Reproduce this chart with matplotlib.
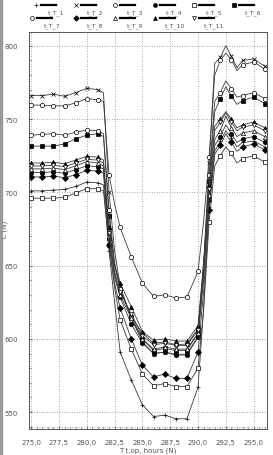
# Temperature curves t_T_1 .. t_T_11 against operating time
import numpy as np
import matplotlib.pyplot as plt
from matplotlib.ticker import MultipleLocator, FuncFormatter
from matplotlib.patches import Rectangle

hours = [275, 276, 277, 278, 279, 280, 281, 281.5, 282, 282.5, 283, 284, 285, 286,
         287, 288, 289, 290, 290.5, 291, 291.5, 292, 292.5, 293, 293.5, 294, 295, 296]

labels = ["t_T_1", "t_T_2", "t_T_3", "t_T_4", "t_T_5", "t_T_6",
          "t_T_7", "t_T_8", "t_T_9", "t_T_10", "t_T_11"]
markers = ["+", "x", "o", "o", "s", "s", "o", "D", "^", "^", "v"]
filled = [True, True, False, True, False, True, False, True, False, True, False]

t1 = [701, 701, 701.5, 702, 704, 707, 706.5, 705, 660, 625, 591, 572, 555, 547,
      548, 545.5, 545.5, 567, 620, 690, 728, 735, 742, 737, 731, 734, 735, 731]
t2 = [766, 766, 767, 765.5, 768, 771, 770, 768, 700, 660, 636, 614, 598, 590,
      591, 589.5, 589.5, 602, 650, 720, 788, 792, 800, 793, 785, 790, 791, 786]
t3 = [759.5, 759.5, 759, 759, 761, 764, 763, 762, 712, 692, 676, 656, 638, 629,
      630, 628, 628.5, 646, 680, 724, 780, 790, 795, 790.5, 783, 787, 789, 784]
t4 = [713.5, 713.5, 714, 713, 715.5, 718, 717.5, 716, 668, 642, 628.5, 610, 597, 590,
      591, 589, 589, 601, 640, 695, 732, 738, 746, 740, 734, 736.5, 738, 734]
t5 = [696, 696, 696, 696.5, 699.5, 702.5, 702.5, 701, 664, 635, 613, 593, 576, 568,
      569.5, 567.5, 567.5, 580, 620, 680, 718, 725, 731, 726.5, 720, 723, 725, 720.5]
t6 = [731.5, 731.5, 731.5, 733, 736.5, 739, 740, 738, 684, 650, 634, 615, 600, 592,
      593.5, 592, 592, 604, 646, 708, 755, 764, 772, 765.5, 760, 762.5, 765, 760.5]
t7 = [739, 739.5, 740, 739, 741, 742.5, 742, 740, 688, 652, 634, 615, 604, 597,
      598, 596, 596.5, 607, 650, 712, 762, 768, 776, 770.5, 765, 766, 768, 764]
t8 = [710.5, 710.5, 711, 710, 712, 715, 714.5, 713, 664, 638, 621, 600, 582, 574,
      576, 573, 573, 591, 632, 688, 726, 732, 740, 734, 728, 731, 733, 729]
t9 = [716, 716, 716.5, 715.5, 718, 721, 720, 718, 670, 644, 630, 614, 600, 593,
      594.5, 593, 593, 604, 644, 698, 736, 742, 752, 744, 738, 740.5, 742, 738]
t10 = [720, 720, 720.5, 719.5, 722, 724.5, 724, 722, 676, 650, 638, 622, 605, 599,
       600, 598.5, 598.5, 609, 652, 705, 745, 750, 755, 750, 744, 746, 748, 744]
t11 = [718, 718, 718.5, 717.5, 720, 722.5, 722, 720, 672, 646, 632, 617, 602, 596,
       597, 595.5, 595.5, 606, 648, 702, 742, 748, 754, 748, 742, 744.5, 746, 742]

series = [t1, t2, t3, t4, t5, t6, t7, t8, t9, t10, t11]

# markers only on whole hours
marks = [i for i, h in enumerate(hours) if float(h).is_integer()]

fig = plt.figure(figsize=(2.73, 4.56), dpi=100)
ax = fig.add_axes([0.106, 0.057, 0.872, 0.871])

for y, lab, m, f in zip(series, labels, markers, filled):
    ax.plot(hours, y, color="#3a3a3a", lw=0.6, marker=m, markersize=3.1,
            markevery=marks, mec="black", mew=0.5,
            mfc="black" if f else "white", label=lab)

ax.set_xlim(274.8, 296.2)
ax.set_ylim(538.5, 809.5)
ax.xaxis.set_major_locator(MultipleLocator(2.5))
ax.xaxis.set_minor_locator(MultipleLocator(0.5))
ax.yaxis.set_major_locator(MultipleLocator(50))
ax.yaxis.set_minor_locator(MultipleLocator(10))
ax.xaxis.set_major_formatter(FuncFormatter(lambda v, p: ("%.1f" % v).replace(".", ",")))
ax.yaxis.set_major_formatter(FuncFormatter(lambda v, p: "%d" % v))
ax.tick_params(which="both", direction="in", labelsize=5, labelcolor="#555555",
               color="#777777")
ax.tick_params(which="major", length=2)
ax.tick_params(axis="x", which="major", pad=7)
ax.tick_params(axis="y", which="major", pad=8)
ax.tick_params(which="minor", length=1.2)
ax.grid(True, which="major", linestyle=(0, (1, 2)), color="#888888", lw=0.6)
ax.axhline(540, linestyle=(0, (1, 2)), color="#888888", lw=0.6)
for s in ax.spines.values():
    s.set_color("#555555")
    s.set_linewidth(0.7)

ax.set_xlabel("T t.op, hours (N)", fontsize=5, color="#555555", labelpad=1)
ax.set_ylabel("°C (N)", fontsize=5, color="#555555")
ax.yaxis.set_label_coords(-0.085, 0.5)

# legend in two rows, label under the line
lax = fig.add_axes([0, 0.928, 1, 0.072])
lax.set_xlim(0, 273)
lax.set_ylim(33, 0)
lax.axis("off")
for i, (lab, m, f) in enumerate(zip(labels, markers, filled)):
    row, col = divmod(i, 6)
    x0 = 36 + 39.5 * col - (4 if row == 1 and col == 0 else 0)
    y0 = 6 + 13.5 * row
    lax.plot([x0], [y0], marker=m, markersize=2.8, color="black", mew=0.5,
             mfc="black" if f else "white", ls="none")
    lax.plot([x0 + 5, x0 + 20], [y0, y0], color="black", lw=1.6)
    lax.text(x0 + 20, y0 + 7, lab, fontsize=4.5, color="#555555",
             ha="center", va="center")

fig.patches.append(Rectangle((0, 0), 0.007, 1, transform=fig.transFigure,
                             color="#9a9a9a", zorder=0))

fig.savefig("out.png", dpi=100)
